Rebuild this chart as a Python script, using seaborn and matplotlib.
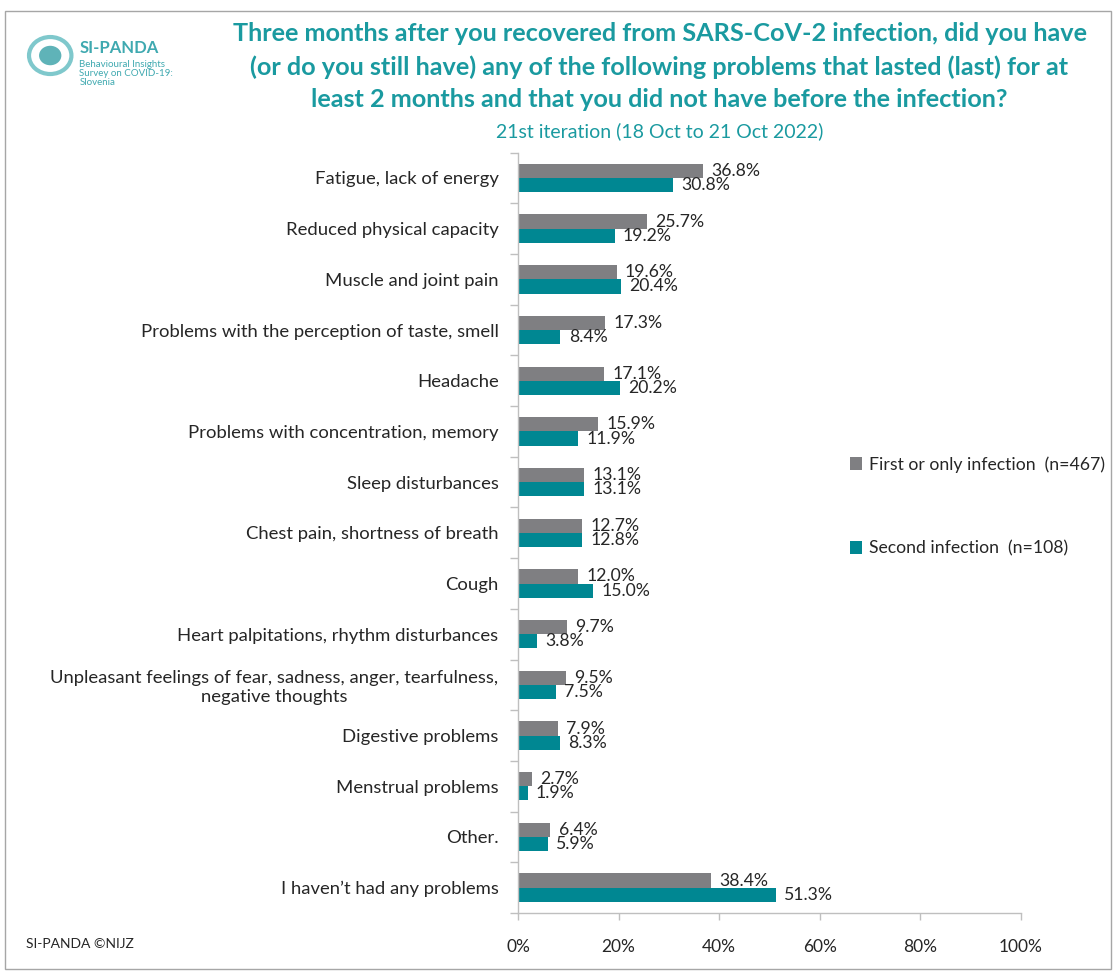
import matplotlib
matplotlib.use("Agg")
import matplotlib.pyplot as plt
import seaborn as sns
import pandas as pd
from matplotlib.patches import Rectangle, Circle
from matplotlib.ticker import FixedLocator, PercentFormatter

categories = [
    "Fatigue, lack of energy",
    "Reduced physical capacity",
    "Muscle and joint pain",
    "Problems with the perception of taste, smell",
    "Headache",
    "Problems with concentration, memory",
    "Sleep disturbances",
    "Chest pain, shortness of breath",
    "Cough",
    "Heart palpitations, rhythm disturbances",
    "Unpleasant feelings of fear, sadness, anger, tearfulness,\nnegative thoughts",
    "Digestive problems",
    "Menstrual problems",
    "Other.",
    "I haven\u2019t had any problems",
]
first_vals = [36.8, 25.7, 19.6, 17.3, 17.1, 15.9, 13.1, 12.7, 12.0, 9.7, 9.5, 7.9, 2.7, 6.4, 38.4]
second_vals = [30.8, 19.2, 20.4, 8.4, 20.2, 11.9, 13.1, 12.8, 15.0, 3.8, 7.5, 8.3, 1.9, 5.9, 51.3]
series = ["First or only infection  (n=467)", "Second infection  (n=108)"]
colors = ["#7f7f82", "#008792"]

title = ("Three months after you recovered from SARS-CoV-2 infection, did you have\n"
         "(or do you still have) any of the following problems that lasted (last) for at\n"
         "least 2 months and that you did not have before the infection?")
subtitle = "21st iteration (18 Oct to 21 Oct 2022)"

df = pd.DataFrame({
    "category": categories * 2,
    "value": first_vals + second_vals,
    "series": [series[0]] * len(categories) + [series[1]] * len(categories),
})

sns.set_theme(style="white")
plt.rcParams["font.family"] = ["Lato", "DejaVu Sans"]
TXT = "#262626"
TEAL = "#1a9aa0"

fig = plt.figure(figsize=(11.16, 9.74), dpi=100)
ax = fig.add_axes([0.4642, 0.0626, 0.4507, 0.7807])

sns.barplot(data=df, y="category", x="value", hue="series", order=categories,
            hue_order=series, palette=colors, orient="h", width=0.56, gap=0,
            linewidth=0, saturation=1, ax=ax, legend=True)

ax.set_xlim(0, 100)
ax.set_ylim(len(categories) - 0.5, -0.5)
ax.set_xlabel("")
ax.set_ylabel("")
ax.xaxis.set_major_locator(FixedLocator([0, 20, 40, 60, 80, 100]))
ax.xaxis.set_major_formatter(PercentFormatter(decimals=0))
ax.tick_params(axis="x", length=5, width=1, color="#bfbfbf", pad=14, labelsize=12.5, labelcolor=TXT, bottom=True)
ax.tick_params(axis="y", which="major", length=0, pad=14, labelsize=13.3, labelcolor=TXT)
ax.yaxis.set_minor_locator(FixedLocator([i + 0.5 for i in range(-1, len(categories))]))
ax.tick_params(axis="y", which="minor", length=6, width=1, color="#bfbfbf", left=True)
for lbl in ax.get_yticklabels():
    lbl.set_multialignment("center")

for s in ["top", "right"]:
    ax.spines[s].set_visible(False)
for s in ["left", "bottom"]:
    ax.spines[s].set_color("#bfbfbf")
    ax.spines[s].set_linewidth(1)
ax.grid(False)

for cont in ax.containers:
    ax.bar_label(cont, labels=[f"{v:.1f}%" for v in cont.datavalues], padding=6,
                 fontsize=12.7, color=TXT)

leg = ax.legend(loc="upper left", bbox_to_anchor=(0.645, 0.61), frameon=False,
                fontsize=12.7, handlelength=0.7, handleheight=0.7, handletextpad=0.4,
                labelspacing=3.85, borderaxespad=0)
for t in leg.get_texts():
    t.set_color(TXT)

fig.text(0.591, 0.977, title, ha="center", va="top", fontsize=18.2, fontweight="bold",
         color=TEAL, linespacing=1.5)
fig.text(0.591, 0.865, subtitle, ha="center", va="center", fontsize=14, color=TEAL)

fig.text(0.023, 0.031, "SI-PANDA \u00a9NIJZ", ha="left", va="center", fontsize=10, color=TXT)

# logo
fig.patches.append(Circle((0.045, 0.943), 0.019, transform=fig.transFigure, fill=False,
                          edgecolor="#7fc8cc", linewidth=3))
fig.patches.append(Circle((0.045, 0.943), 0.010, transform=fig.transFigure, fill=True,
                          facecolor="#5fb3b8", edgecolor="none"))
fig.text(0.071, 0.951, "SI-PANDA", ha="left", va="center", fontsize=12, fontweight="bold", color="#3fa9b0")
fig.text(0.071, 0.925, "Behavioural Insights\nSurvey on COVID-19:\nSlovenia", ha="left", va="center",
         fontsize=7, color="#3fa9b0", linespacing=1.0)

fig.patches.append(Rectangle((5 / 1116, 5 / 974), 1106 / 1116, 958 / 974, transform=fig.transFigure,
                             fill=False, edgecolor="#a6a6a6", linewidth=1))

fig.savefig("out.png", dpi=100)
